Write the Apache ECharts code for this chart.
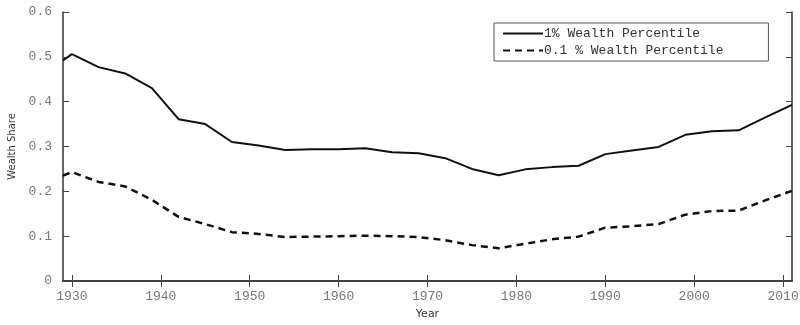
<!DOCTYPE html>
<html>
<head>
<meta charset="utf-8">
<script src="https://cdn.jsdelivr.net/npm/echarts@6/dist/echarts.min.js"></script>
<style>html,body{margin:0;padding:0;background:#fff;}#c{width:800px;height:325px;}</style>
</head>
<body>
<div id="c"></div>
<script>
var years = [1929,1930,1933,1936,1939,1942,1945,1948,1951,1954,1957,1960,1963,1966,1969,1972,1975,1978,1981,1984,1987,1990,1993,1996,1999,2002,2005,2008,2011];
var top1 = [0.492,0.506,0.477,0.463,0.430,0.361,0.350,0.310,0.302,0.292,0.294,0.294,0.296,0.287,0.285,0.274,0.250,0.236,0.249,0.254,0.257,0.283,0.291,0.299,0.326,0.334,0.336,0.365,0.393];
var top01 = [0.235,0.243,0.221,0.211,0.181,0.143,0.127,0.109,0.105,0.098,0.099,0.100,0.101,0.100,0.098,0.091,0.080,0.073,0.083,0.093,0.099,0.119,0.122,0.127,0.148,0.156,0.157,0.180,0.201];
var xTicks = [1930,1940,1950,1960,1970,1980,1990,2000,2010];
var seriesNames = ['1% Wealth Percentile', '0.1 % Wealth Percentile'];

function pairs(vals){ return years.map(function(y,i){ return [y, vals[i]]; }); }

var mono = 'Liberation Mono, DejaVu Sans Mono, monospace';
var frame = {lineStyle:{color:'#333', width:1.5}};
var chart = echarts.init(document.getElementById('c'), null, {renderer:'canvas'});
chart.setOption({
  animation:false,
  backgroundColor:'#fff',
  grid:{left:63, right:8, top:12, bottom:44, containLabel:false, outerBoundsMode:'none'},
  legend:{
    left:494, top:23, orient:'vertical',
    borderColor:'#555', borderWidth:1,
    padding:[4,45,4,8], itemGap:4, itemWidth:40, itemHeight:14,
    itemStyle:{opacity:0},
    textStyle:{fontFamily:mono, fontSize:13, color:'#333', padding:[0,0,0,-4]},
    data:seriesNames
  },
  xAxis:[{
    type:'value', min:1929, max:2011, position:'bottom',
    name:'Year', nameLocation:'middle', nameGap:28,
    nameTextStyle:{fontFamily:'DejaVu Sans', fontSize:11, color:'#333'},
    axisLine:frame, splitLine:{show:false},
    axisTick:{inside:true, length:6, customValues:xTicks, lineStyle:{color:'#444'}},
    axisLabel:{customValues:xTicks, fontFamily:mono, fontSize:13, color:'#777', margin:9,
      formatter:function(v){ return String(v); }}
  },{
    type:'value', min:1929, max:2011, position:'top',
    axisLine:frame, splitLine:{show:false},
    axisTick:{inside:true, length:6, customValues:xTicks, lineStyle:{color:'#444'}},
    axisLabel:{show:false}
  }],
  yAxis:[{
    type:'value', min:0, max:0.6, interval:0.1, position:'left',
    name:'Wealth Share', nameLocation:'middle', nameGap:44, nameRotate:90,
    nameTextStyle:{fontFamily:'DejaVu Sans', fontSize:10, color:'#333'},
    axisLine:frame, splitLine:{show:false},
    axisTick:{inside:true, length:6, lineStyle:{color:'#444'}},
    axisLabel:{fontFamily:mono, fontSize:13, color:'#777', margin:11,
      formatter:function(v){ return v===0 ? '0' : v.toFixed(1); }}
  },{
    type:'value', min:0, max:0.6, interval:0.1, position:'right',
    axisLine:frame, splitLine:{show:false},
    axisTick:{inside:true, length:6, lineStyle:{color:'#444'}},
    axisLabel:{show:false}
  }],
  series:[{
    name:seriesNames[0], type:'line', data:pairs(top1), symbol:'none', showSymbol:false,
    lineStyle:{color:'#111', width:2}, itemStyle:{color:'#111'}
  },{
    name:seriesNames[1], type:'line', data:pairs(top01), symbol:'none', showSymbol:false,
    lineStyle:{color:'#111', width:2.5, type:[7,5]}, itemStyle:{color:'#111'}
  }]
});
</script>
</body>
</html>
